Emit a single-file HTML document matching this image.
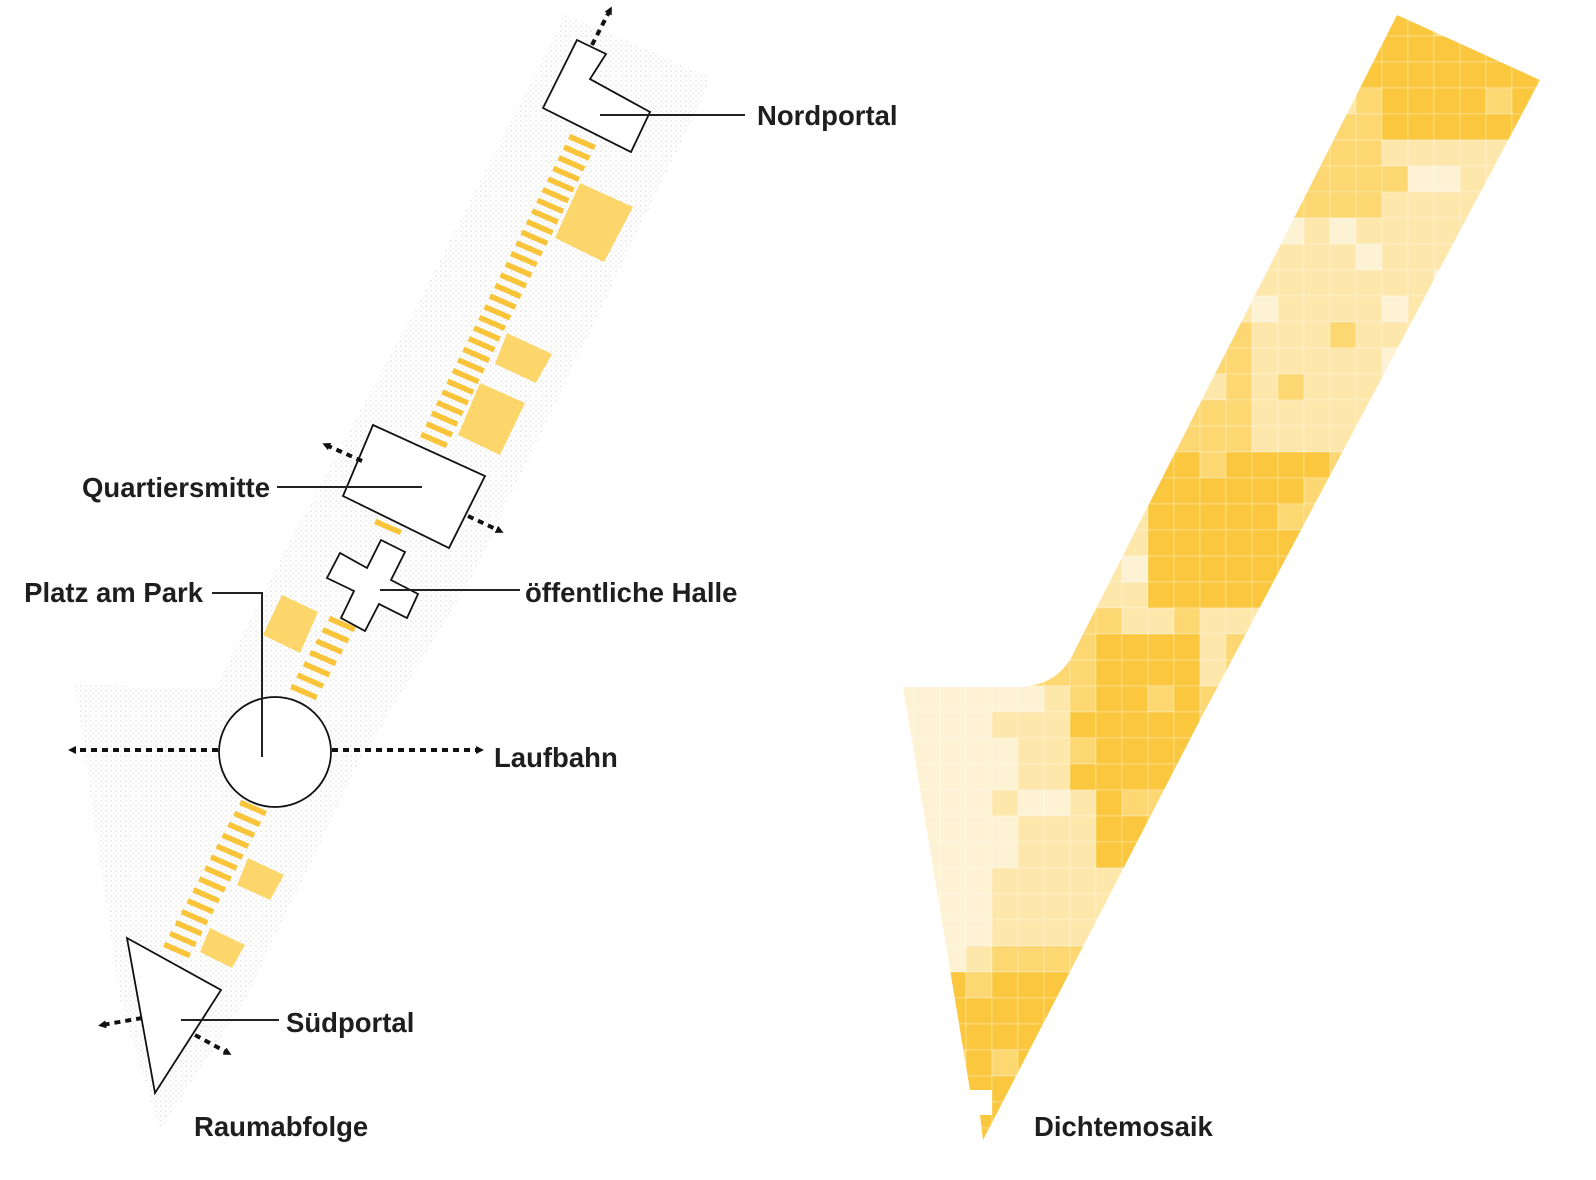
<!DOCTYPE html>
<html><head><meta charset="utf-8">
<style>
html,body{margin:0;padding:0;background:#fff;}
svg{display:block}
text{font-family:"Liberation Sans",sans-serif;font-weight:bold;font-size:27.5px;fill:#1e1e1e}
</style></head>
<body>
<svg id="s" width="1596" height="1180" viewBox="0 0 1596 1180" xmlns="http://www.w3.org/2000/svg">
<defs>
<pattern id="dots" width="5" height="5" patternUnits="userSpaceOnUse">
<circle cx="1" cy="1" r="0.6" fill="#8a8a8a"/>
<circle cx="3.5" cy="3.2" r="0.5" fill="#b0b0b0"/>
</pattern>
<clipPath id="mclip">
<path d="M1397,15 L1540,80 L1200,720 L983,1140 L980,1115 L992,1115 L992,1090 L970,1090 L903,687 L1020,687 Q1060,685 1075,650 Z"/>
</clipPath>
<marker id="ah" markerWidth="8" markerHeight="8" refX="4" refY="4" orient="auto" markerUnits="userSpaceOnUse"><path d="M0,0 L8,4 L0,8 Z" fill="#111"/></marker>
</defs>
<path d="M565,15 L712,78 L470,580 L355,770 L245,1000 L160,1130 L120,1000 L75,685 L215,688 L280,560 L420,300 Z" fill="url(#dots)" opacity="0.5"/>
<g id="stripes" stroke="#FAC43A" stroke-width="5.5"></g>
<g fill="#FCD66A">
<polygon points="580,183 633,207 604,262 555,238"/>
<polygon points="507,333 552,354 536,383 495,364"/>
<polygon points="480,383 525,403 500,455 458,435"/>
<polygon points="282,595 318,612 300,653 263,635"/>
<polygon points="248,858 284,875 270,900 237,885"/>
<polygon points="210,928 245,945 232,968 200,952"/>
</g>
<g fill="#fff" stroke="#111" stroke-width="1.8">
<polygon points="577,40 606,54 590,79 650,112 631,152 543,108"/>
<polygon points="373,425 485,476 449,548 343,496"/>
<polygon points="381,540 405,552 391,580 418,594 407,618 379,604 365,631 341,618 354,591 327,578 340,553 367,568"/>
<ellipse cx="275" cy="752" rx="56" ry="55"/>
<polygon points="127,938 221,990 155,1093"/>
</g>
<g stroke="#111" stroke-width="4" stroke-dasharray="6 5" fill="none" marker-end="url(#ah)">
<line x1="592" y1="45" x2="610" y2="10"/>
<line x1="362" y1="461" x2="326" y2="445"/>
<line x1="468" y1="516" x2="500" y2="531"/>
<line x1="218" y1="750" x2="72" y2="750"/>
<line x1="332" y1="750" x2="480" y2="750"/>
<line x1="142" y1="1018" x2="102" y2="1025"/>
<line x1="195" y1="1035" x2="228" y2="1053"/>
</g>
<g stroke="#222" stroke-width="2" fill="none">
<line x1="600" y1="115" x2="745" y2="115"/>
<line x1="277" y1="487" x2="422" y2="487"/>
<polyline points="212,593 262,593 262,757"/>
<line x1="380" y1="590" x2="520" y2="590"/>
<line x1="181" y1="1020" x2="279" y2="1020"/>
</g>
<text x="757" y="125">Nordportal</text>
<text x="270" y="497" text-anchor="end">Quartiersmitte</text>
<text x="203" y="602" text-anchor="end">Platz am Park</text>
<text x="525" y="602">öffentliche Halle</text>
<text x="494" y="767">Laufbahn</text>
<text x="286" y="1032">Südportal</text>
<text x="194" y="1136">Raumabfolge</text>
<text x="1034" y="1136">Dichtemosaik</text>
<g id="mosaic" clip-path="url(#mclip)"></g>
</svg>
<script>
var NS="http://www.w3.org/2000/svg";
var st=document.getElementById("stripes");
var c=Math.cos(23.5*Math.PI/180)*14,sn=Math.sin(23.5*Math.PI/180)*14;
function grp(x1,y1,x2,y2,n){for(var i=0;i<n;i++){var t=n>1?i/(n-1):0;var x=x1+(x2-x1)*t,y=y1+(y2-y1)*t;var l=document.createElementNS(NS,"line");l.setAttribute("x1",x-c);l.setAttribute("y1",y-sn);l.setAttribute("x2",x+c);l.setAttribute("y2",y+sn);st.appendChild(l);}}
grp(582,142,434,440,29);grp(388,527,388,527,1);grp(342,624,304,692,7);grp(253,808,177,950,14);
var m=document.getElementById("mosaic");
var P=["#FEF2D4","#FDE7AB","#FCD772","#FAC73F"];
function dens(x,y){
 var d;
 if(y<100) d=3; else if(y<150) d=(x<1380?2:3);
 else if(y<210) d=(x<1330?2:(x<1420?2:1));
 else if(y<380) d=(x<1260&&y>330?2:1);
 else if(y<440) d=(x<1240?2:1);
 else if(y<610) d=(x>1160&&x<1310)?3:(x<1160?1:2);
 else if(y<640) d=(x<1130?2:1);
 else if(y<690) d=(x>1090&&x<1200)?3:(x<1090?2:1);
 else if(y<860){ if(x<1020) d=0; else if(x<1060) d=1; else if(x<1200) d=3; else d=2; if(y>800&&x<1100&&x>1020) d=1;}
 else if(y<935) d=(x<990?0:1);
 else if(y<985) d=(x<960?1:2);
 else d=(x<1060?3:2);
 return d;
}
for(var x=1018-26*5;x<1560;x+=26){for(var y=686-26*27;y<1150;y+=26){
 var h=Math.sin(x*12.9898+y*78.233)*43758.5453;h=h-Math.floor(h);
 var d=dens(x+13,y+13);
 if(h<0.1&&d>0)d--; else if(h>0.93&&d<3)d++;
 var r=document.createElementNS(NS,"rect");r.setAttribute("x",x);r.setAttribute("y",y);r.setAttribute("width",26);r.setAttribute("height",26);r.setAttribute("fill",P[d]);r.setAttribute("stroke","#fff");r.setAttribute("stroke-width","0.6");r.setAttribute("stroke-opacity","0.5");m.appendChild(r);}}
</script>
</body></html>
